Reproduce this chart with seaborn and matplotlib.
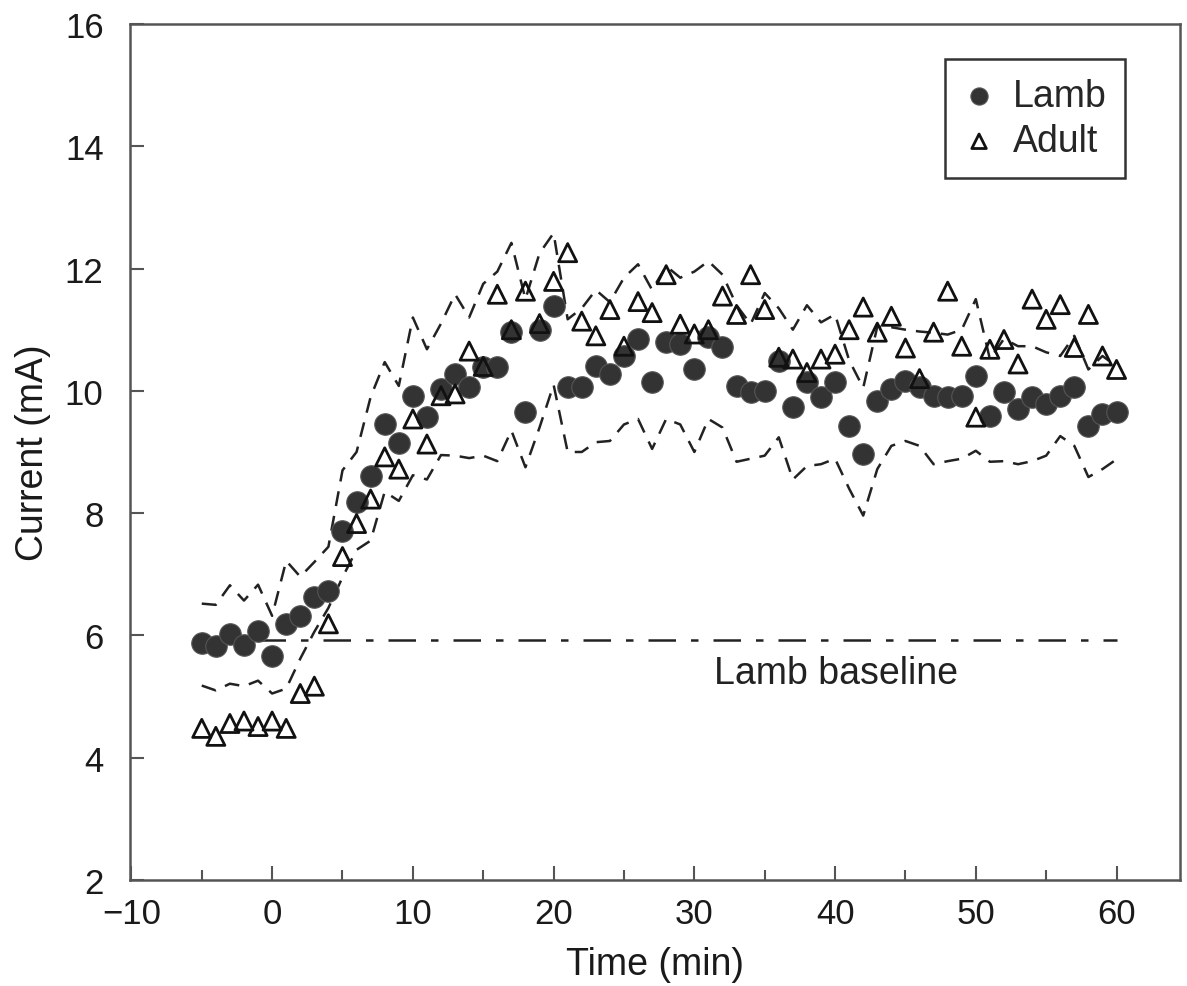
import numpy as np
import pandas as pd
import seaborn as sns
import matplotlib.pyplot as plt
from matplotlib.ticker import MultipleLocator

# time axis, one reading per minute
time = list(range(-5, 61))

lamb = [5.87, 5.82, 6.03, 5.84, 6.08, 5.66, 6.19, 6.32, 6.63, 6.73,
        7.70, 8.18, 8.60, 9.45, 9.14, 9.92, 9.57, 10.03, 10.27, 10.06,
        10.39, 10.39, 10.97, 9.65, 11.00, 11.38, 10.06, 10.06, 10.40, 10.27,
        10.57, 10.84, 10.14, 10.80, 10.76, 10.35, 10.88, 10.71, 10.08, 9.98,
        10.00, 10.49, 9.73, 10.14, 9.90, 10.14, 9.42, 8.97, 9.83, 10.03,
        10.16, 10.06, 9.91, 9.90, 9.91, 10.24, 9.59, 9.98, 9.70, 9.90,
        9.78, 9.91, 10.06, 9.42, 9.62, 9.65]

adult = [4.48, 4.35, 4.56, 4.60, 4.51, 4.60, 4.48, 5.05, 5.17, 6.19,
         7.29, 7.83, 8.23, 8.92, 8.72, 9.54, 9.13, 9.92, 9.95, 10.65,
         10.40, 11.58, 11.00, 11.63, 11.10, 11.79, 12.26, 11.14, 10.90, 11.33,
         10.73, 11.46, 11.28, 11.90, 11.09, 10.93, 11.00, 11.55, 11.25, 11.90,
         11.33, 10.55, 10.52, 10.30, 10.52, 10.60, 11.00, 11.37, 10.96, 11.22,
         10.70, 10.20, 10.96, 11.63, 10.73, 9.57, 10.68, 10.84, 10.44, 11.50,
         11.17, 11.41, 10.71, 11.25, 10.57, 10.35]

# dashed envelope around the lamb curve
lamb_upper = [6.52, 6.50, 6.82, 6.57, 6.83, 6.32, 7.22, 6.96, 7.20, 7.45,
              8.70, 9.00, 9.90, 10.47, 10.08, 11.20, 10.68, 11.10, 11.58, 11.20,
              11.75, 11.95, 12.42, 11.50, 12.25, 12.58, 11.17, 11.35, 11.65, 11.45,
              11.85, 12.07, 11.65, 12.04, 11.85, 11.95, 12.12, 11.90, 11.40, 11.09,
              11.60, 11.35, 11.00, 11.40, 11.12, 11.25, 10.50, 10.05, 11.05, 11.04,
              11.00, 10.97, 10.95, 10.92, 11.00, 11.50, 10.52, 10.85, 10.73, 10.73,
              10.63, 10.57, 10.90, 10.35, 10.57, 10.40]

lamb_lower = [5.18, 5.10, 5.21, 5.17, 5.26, 5.05, 5.13, 5.62, 6.06, 6.45,
              6.95, 7.40, 7.55, 8.35, 8.20, 8.62, 8.55, 8.95, 8.94, 8.90,
              8.94, 8.85, 9.35, 8.75, 9.40, 10.10, 9.00, 9.00, 9.16, 9.18,
              9.45, 9.54, 9.05, 9.54, 9.45, 9.00, 9.54, 9.40, 8.84, 8.89,
              8.94, 9.24, 8.55, 8.77, 8.80, 8.89, 8.40, 7.96, 8.72, 9.10,
              9.18, 9.10, 8.80, 8.85, 8.89, 9.02, 8.84, 8.85, 8.80, 8.85,
              8.94, 9.26, 9.10, 8.59, 8.72, 8.88]

baseline_t = [-1, 60]
baseline_level = 5.92

df = pd.DataFrame({'time': time, 'lamb': lamb, 'adult': adult,
                   'upper': lamb_upper, 'lower': lamb_lower})
base = pd.DataFrame({'time': baseline_t, 'level': [baseline_level] * 2})

sns.set_style('ticks')
plt.rcParams['font.family'] = ['Liberation Sans', 'DejaVu Sans']

fig = plt.figure(figsize=(11.87, 9.87), dpi=100)
ax = fig.add_axes([0.1095, 0.1074, 0.8845, 0.8673])

dash = (0, (6, 4))
sns.lineplot(data=df, x='time', y='upper', ax=ax, color='#222222',
             linewidth=1.8, linestyle=dash)
sns.lineplot(data=df, x='time', y='lower', ax=ax, color='#222222',
             linewidth=1.8, linestyle=dash)
sns.lineplot(data=base, x='time', y='level', ax=ax, color='#222222',
             linewidth=1.8, linestyle=(0, (11, 6, 3, 6)))

sns.scatterplot(data=df, x='time', y='lamb', ax=ax, marker='o', s=240,
                color='#333333', edgecolor='#555555', linewidth=0.8,
                label='Lamb', zorder=3)
sns.scatterplot(data=df, x='time', y='adult', ax=ax, marker='^', s=170,
                facecolor='none', edgecolor='#111111', linewidth=2,
                label='Adult', zorder=4)

ax.text(40.1, 5.38, 'Lamb baseline', fontsize=27, ha='center', va='center',
        color='#222222')

ax.set_xlim(-10.1, 64.5)
ax.set_ylim(2, 16)
ax.xaxis.set_minor_locator(MultipleLocator(5))
ax.yaxis.set_major_locator(MultipleLocator(2))
ax.set_xticks(range(-10, 61, 10))
ax.set_xticklabels(['\u221210', '0', '10', '20', '30', '40', '50', '60'])

ax.tick_params(axis='both', which='major', direction='in', length=10,
               width=1.5, color='#555555', labelsize=25, labelcolor='#1a1a1a')
ax.tick_params(axis='y', which='major', pad=19)
ax.tick_params(axis='x', which='major', pad=12)
ax.tick_params(axis='x', which='minor', direction='in', length=7,
               width=1.5, color='#555555')

for side in ['left', 'right', 'top', 'bottom']:
    ax.spines[side].set_linewidth(1.8)
    ax.spines[side].set_color('#555555')

ax.set_xlabel('Time (min)', fontsize=27, color='#1a1a1a', labelpad=12)
ax.set_ylabel('Current (mA)', fontsize=27, color='#1a1a1a', labelpad=10)

leg = ax.legend(loc='upper right', bbox_to_anchor=(0.966, 0.981),
                fontsize=27, markerscale=0.8, handlelength=0.8,
                handletextpad=0.5, borderpad=0.5, labelspacing=0.25,
                fancybox=False, framealpha=1, edgecolor='#333333')
leg.get_frame().set_linewidth(1.8)

plt.savefig('out.png', dpi=100)
